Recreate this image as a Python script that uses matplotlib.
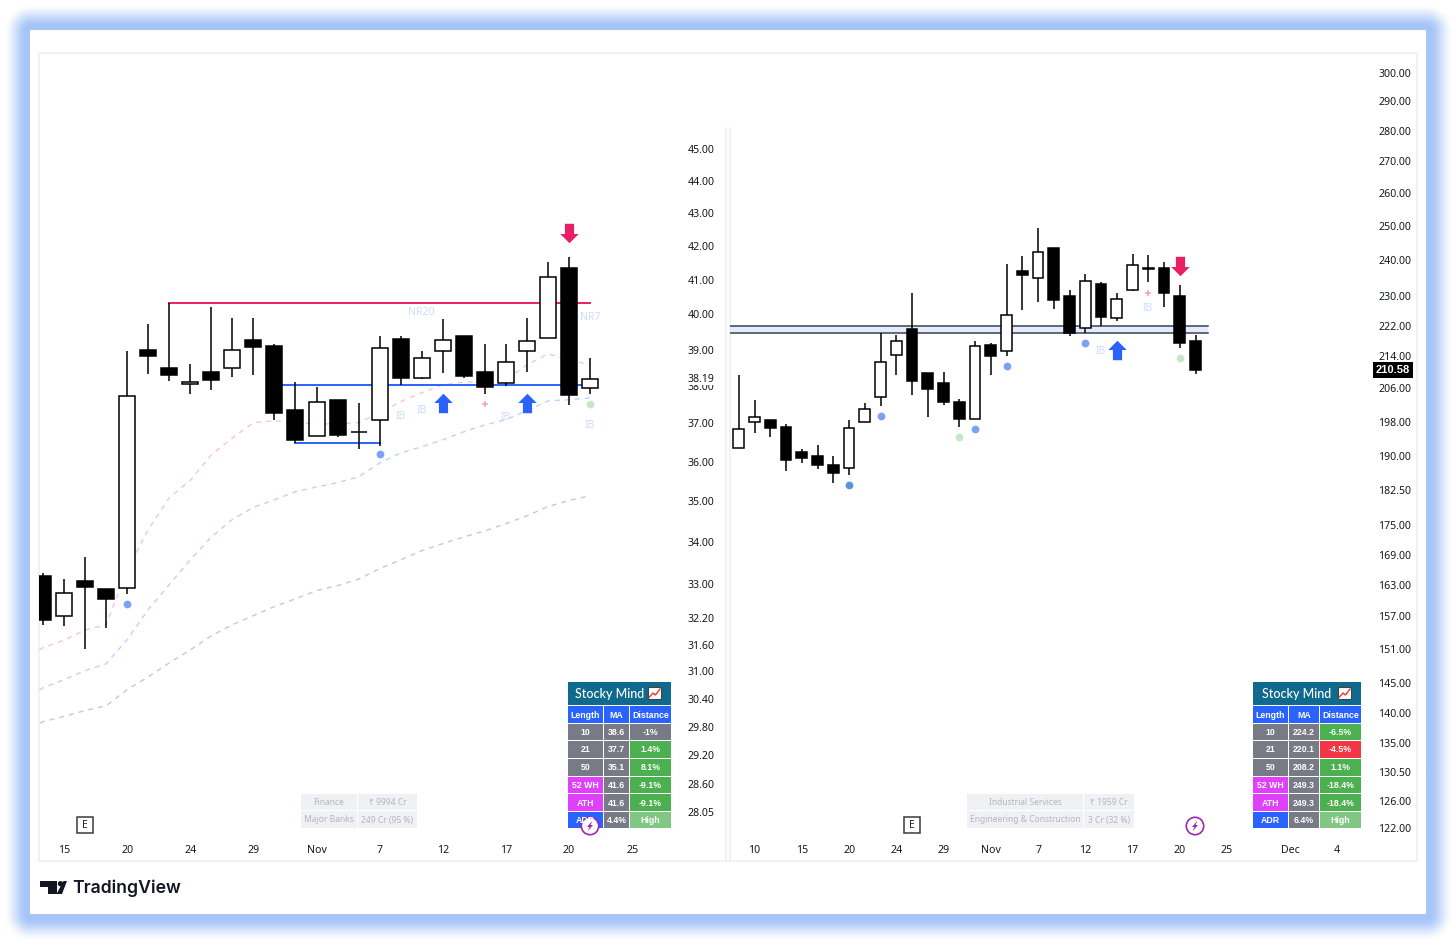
import numpy as np
import matplotlib
matplotlib.use("Agg")
import matplotlib.pyplot as plt
from matplotlib.patches import Rectangle, Circle, Polygon
from matplotlib.path import Path
from matplotlib.ticker import NullLocator

plt.rcParams['font.family'] = ['Noto Sans', 'DejaVu Sans']

# left chart, daily bars
l_open = [33.18, 32.24, 33.07, 32.89, 32.91, 38.99, 38.49, 38.06, 38.38, 38.50, 39.27, 39.10, 37.36, 36.67, 37.63, 36.78, 37.10, 39.30, 38.22, 38.96, 39.38, 38.38, 38.08, 38.96, 39.33, 41.33, 37.95]
l_high = [33.25, 33.11, 33.64, 32.89, 38.96, 39.71, 40.32, 38.61, 40.21, 39.90, 39.90, 39.16, 38.11, 37.98, 37.63, 37.55, 39.38, 39.38, 38.96, 39.87, 39.38, 39.16, 39.16, 39.90, 41.51, 41.66, 38.77]
l_low = [32.05, 32.03, 31.50, 31.97, 32.77, 38.33, 38.14, 37.79, 37.90, 38.25, 38.30, 37.10, 36.49, 36.67, 36.65, 36.34, 36.42, 38.03, 38.19, 38.35, 38.22, 37.79, 38.01, 38.38, 39.33, 37.50, 37.79]
l_close = [32.15, 32.79, 32.93, 32.65, 37.74, 38.82, 38.30, 38.11, 38.17, 38.99, 39.07, 37.28, 36.57, 37.58, 36.70, 36.78, 39.05, 38.22, 38.77, 39.27, 38.27, 37.98, 38.66, 39.24, 41.07, 37.76, 38.19]
# moving averages start one bar before the first visible candle
l_ma10 = [31.26, 31.53, 31.70, 31.93, 32.05, 33.33, 34.30, 35.09, 35.53, 36.18, 36.62, 37.02, 37.07, 37.02, 36.99, 36.99, 37.02, 37.28, 37.58, 37.82, 38.03, 38.11, 38.11, 38.17, 38.58, 38.88, 38.72, 38.58]
l_ma21 = [30.38, 30.64, 30.82, 31.02, 31.17, 31.71, 32.40, 32.98, 33.57, 34.12, 34.55, 34.85, 35.04, 35.24, 35.36, 35.47, 35.62, 35.97, 36.23, 36.39, 36.57, 36.78, 36.96, 37.10, 37.34, 37.60, 37.63, 37.68]
l_ma50 = [29.70, 29.91, 30.02, 30.15, 30.25, 30.60, 30.88, 31.19, 31.48, 31.80, 32.05, 32.26, 32.47, 32.65, 32.84, 32.96, 33.11, 33.36, 33.57, 33.79, 33.96, 34.12, 34.27, 34.45, 34.64, 34.87, 35.02, 35.14]
l_yticks = [45, 44, 43, 42, 41, 40, 39, 38, 37, 36, 35, 34, 33, 32.2, 31.6, 31, 30.4, 29.8, 29.2, 28.6, 28.05]
l_xticks = [1, 4, 7, 10, 13, 16, 19, 22, 25, 28]
l_xlabels = ["15", "20", "24", "29", "Nov", "7", "12", "17", "20", "25"]

# right chart, daily bars
r_open = [191.9, 197.9, 198.4, 196.7, 190.9, 190.0, 188.1, 187.4, 197.9, 203.9, 214.4, 221.0, 209.9, 207.4, 202.7, 198.6, 216.9, 215.4, 236.8, 235.0, 243.5, 230.0, 221.3, 233.3, 224.1, 231.7, 237.9, 237.9, 230.0, 218.0]
r_high = [209.4, 203.2, 198.4, 197.4, 191.6, 192.5, 190.0, 198.4, 202.5, 220.1, 219.6, 230.8, 209.9, 210.1, 203.4, 218.0, 217.4, 238.9, 241.1, 249.4, 243.5, 231.7, 236.1, 233.9, 230.8, 241.7, 241.4, 239.4, 233.0, 219.6]
r_low = [191.9, 195.3, 194.3, 186.7, 188.5, 187.2, 184.1, 185.9, 197.9, 201.7, 209.4, 204.4, 199.1, 202.0, 196.7, 198.6, 209.4, 214.1, 226.2, 228.4, 226.5, 219.3, 220.1, 222.0, 223.3, 231.4, 233.9, 227.0, 216.2, 209.6]
r_close = [196.2, 199.1, 196.5, 189.2, 189.6, 188.1, 186.3, 196.5, 201.0, 212.6, 218.0, 207.7, 205.9, 202.7, 198.6, 216.7, 214.1, 224.9, 235.7, 242.3, 228.9, 220.1, 234.1, 224.4, 229.2, 238.5, 237.4, 230.8, 217.4, 210.6]
r_yticks = [300, 290, 280, 270, 260, 250, 240, 230, 222, 214, 206, 198, 190, 182.5, 175, 169, 163, 157, 151, 145, 140, 135, 130.5, 126, 122]
r_xticks = [1, 4, 7, 10, 13, 16, 19, 22, 25, 28, 31, 35, 38]
r_xlabels = ["10", "15", "20", "24", "29", "Nov", "7", "12", "17", "20", "25", "Dec", "4"]

# tables
table_lengths = ["10", "21", "50", "52 WH", "ATH", "ADR"]
l_ma_vals = ["38.6", "37.7", "35.1", "41.6", "41.6", "4.4%"]
l_dist_vals = ["-1%", "1.4%", "8.1%", "-9.1%", "-9.1%", "High"]
r_ma_vals = ["224.2", "220.1", "208.2", "249.3", "249.3", "6.4%"]
r_dist_vals = ["-6.5%", "-4.5%", "1.1%", "-18.4%", "-18.4%", "High"]
l_info = [["Finance", "₹ 9994 Cr"], ["Major Banks", "249 Cr (95 %)"]]
r_info = [["Industrial Services", "₹ 1959 Cr"], ["Engineering & Construction", "3 Cr (32 %)"]]

BLUE = "#2962ff"
GREY = "#787b86"
MAGENTA = "#e040fb"
GREEN = "#4caf50"
LGREEN = "#81c784"
RED = "#f23645"
BOLD = ["Liberation Sans", "DejaVu Sans"]
W, H = 1456, 944
up_arrow = Path([(0, 1), (0.95, 0.05), (0.47, 0.05), (0.47, -1), (-0.47, -1), (-0.47, 0.05), (-0.95, 0.05), (0, 1)], closed=True)
down_arrow = Path([(0, -1), (0.95, -0.05), (0.47, -0.05), (0.47, 1), (-0.47, 1), (-0.47, -0.05), (-0.95, -0.05), (0, -1)], closed=True)


def px_axes(fig, x0, y0, x1, y1):
    return fig.add_axes([x0 / W, 1 - y1 / H, (x1 - x0) / W, (y1 - y0) / H])


def candles(ax, o, h, l, c, width):
    x = np.arange(len(o))
    o, h, l, c = map(np.array, (o, h, l, c))
    ax.vlines(x, l, h, color="black", lw=1.1, zorder=3)
    faces = ["white" if b >= a else "black" for a, b in zip(o, c)]
    ax.bar(x, np.maximum(np.abs(c - o), 0.0001), bottom=np.minimum(o, c), width=width,
           color=faces, edgecolor="black", lw=1.1, zorder=4)


def setup_axis(ax, xlim, ylim, xticks, xlabels, yticks, pad):
    ax.set_yscale("log")
    ax.set_xlim(xlim)
    ax.set_ylim(ylim)
    ax.patch.set_alpha(0)
    for s in ax.spines.values():
        s.set_visible(False)
    ax.set_xticks(xticks, labels=xlabels)
    ax.set_yticks(yticks, labels=["%.2f" % t for t in yticks])
    ax.yaxis.set_minor_locator(NullLocator())
    ax.tick_params(axis="x", length=0, pad=-11.6, labelsize=7.6, labelcolor="#131722")
    ax.tick_params(axis="y", length=0, pad=pad, labelsize=7.6, labelcolor="#131722",
                   left=False, right=False, labelleft=False, labelright=True)


def dots(ax, xs, ys, color):
    ax.plot(xs, ys, "o", ms=5.6, color=color, mec="none", zorder=5)


def arrows(ax, xs, ys, path, color):
    ax.plot(xs, ys, marker=path, ls="none", ms=14, color=color, mec="none", zorder=6)


def labels(ax, xs, ys, strs):
    for x, y, s in zip(xs, ys, strs):
        ax.text(x, y, s, color="#cfdcfb", fontsize=7.6, ha="center", va="center", zorder=2)


def cell(ov, x0, y0, x1, y1, color, txt, tc="white", fs=6.3, weight="bold", family=BOLD):
    ov.add_patch(Rectangle((x0, y0), x1 - x0, y1 - y0, fc=color, ec="none"))
    ov.text((x0 + x1) / 2, (y0 + y1) / 2 + 0.5, txt, color=tc, fontsize=fs, fontweight=weight,
            family=family, ha="center", va="center")


def stocky_table(ov, c0, c1, c2, c3, title_x, ma_vals, dist_vals):
    ov.add_patch(Rectangle((c0, 682), c3 - c0, 23, fc="#0f6a8d", ec="none"))
    ov.text(title_x, 693.5, "Stocky Mind", color="white", fontsize=9, family="Lato", fontweight="medium",
            ha="center", va="center")
    # the little chart icon next to the title
    ix = c3 - 23
    ov.add_patch(Rectangle((ix, 687), 13, 12, fc="white", ec="#444444", lw=0.8))
    ov.plot([ix + 1.5, ix + 5, ix + 7.5, ix + 12], [697, 693, 695, 689], color="#e53935", lw=1)
    rows = [(706, 723), (724, 740), (741, 758), (759, 776), (777, 793), (794, 811), (812, 828)]
    cell(ov, c0, rows[0][0], c1, rows[0][1], BLUE, "Length")
    cell(ov, c1 + 1, rows[0][0], c2, rows[0][1], BLUE, "MA")
    cell(ov, c2 + 1, rows[0][0], c3, rows[0][1], BLUE, "Distance")
    len_colors = [GREY, GREY, GREY, MAGENTA, MAGENTA, BLUE]
    for i, (y0, y1) in enumerate(rows[1:]):
        dv = dist_vals[i]
        dc = GREEN
        if dv == "-1%":
            dc = GREY
        elif dv == "-4.5%":
            dc = RED
        elif dv == "High":
            dc = LGREEN
        cell(ov, c0, y0, c1, y1, len_colors[i], table_lengths[i])
        cell(ov, c1 + 1, y0, c2, y1, GREY, ma_vals[i])
        cell(ov, c2 + 1, y0, c3, y1, dc, dv)


def info_table(ov, x0, x1, x2, info):
    fam = ["Noto Sans", "DejaVu Sans"]
    for (y0, y1), row in zip([(794, 810), (811, 828)], info):
        cell(ov, x0, y0, x1, y1, "#f0f1f4", row[0], tc="#b2b5be", fs=6.1, weight="normal", family=fam)
        cell(ov, x1 + 1, y0, x2, y1, "#f0f1f4", row[1], tc="#b2b5be", fs=6.1, weight="normal", family=fam)


def e_box(ov, x):
    ov.add_patch(Rectangle((x - 8, 817), 16, 16, fc="white", ec="#3a3a3a", lw=1.1))
    ov.text(x, 825, "E", fontsize=7.5, color="#222222", ha="center", va="center")


def bolt(ov, x):
    ov.add_patch(Circle((x, 826), 8.7, fc="white", ec="#9c27b0", lw=1.2))
    ov.add_patch(Polygon([(x + 2.5, 820.5), (x - 3, 827), (x - 0.5, 827), (x - 2.5, 831.5), (x + 3, 825), (x + 0.5, 825)],
                         fc="#9c27b0", ec="none"))


fig = plt.figure(figsize=(W / 100, H / 100), dpi=100)

# glowing blue frame behind everything
bg = fig.add_axes([0, 0, 1, 1], zorder=-1)
yy, xx = np.mgrid[0:H, 0:W]
dx = np.maximum(np.maximum(30 - xx, xx - 1426), 0)
dy = np.maximum(np.maximum(30 - yy, yy - 914), 0)
dist = np.hypot(dx, dy)
a = np.clip((27 - dist) / 24, 0, 1)
a = a * a * (3 - 2 * a)
img = np.ones((H, W, 3))
for k, v in enumerate((0.65, 0.77, 0.97)):
    img[:, :, k] = 1 - a * (1 - v)
bg.imshow(img, extent=(0, W, H, 0), aspect="auto", interpolation="nearest")
bg.add_patch(Rectangle((30, 30), 1396, 884, fc="white", ec="none"))
bg.plot([39, 39, 1417, 1417, 39], [861, 53, 53, 861, 861], color="#f0f0f0", lw=1.2)
bg.plot([726, 726], [128, 861], color="#f0f0f0", lw=1.2)
bg.plot([730, 730], [128, 861], color="#f0f0f0", lw=1.2)
bg.set_xlim(0, W)
bg.set_ylim(H, 0)
bg.axis("off")

# left chart
ax1 = px_axes(fig, 39, 53, 726, 861)
setup_axis(ax1, (-0.19, 32.46), (27.08, 48.19), l_xticks, l_xlabels, l_yticks, -27.4)
x1 = np.arange(-1, len(l_open))
ax1.plot(x1, l_ma10, color="#f8c6cd", lw=1, ls=(0, (3.6, 3.6)), zorder=1)
ax1.plot(x1, l_ma21, color="#c0d1f9", lw=1, ls=(0, (3.6, 3.6)), zorder=1)
ax1.plot(x1, l_ma50, color="#c8c8d0", lw=1, ls=(0, (3.6, 3.6)), zorder=1)
ax1.plot([6, 26], [40.32, 40.32], color="#e91e63", lw=1.4, zorder=2)
ax1.plot([11, 26], [38.03, 38.03], color=BLUE, lw=1.4, zorder=2)
ax1.plot([12, 16], [36.49, 36.49], color=BLUE, lw=1.4, zorder=2)
candles(ax1, l_open, l_high, l_low, l_close, 0.76)
dots(ax1, [4, 16], [32.54, 36.2], "#7ba2f5")
dots(ax1, [26], [37.52], "#c8e6c9")
ax1.plot([21], [37.52], "+", ms=5, mew=1.1, color="#f7a0a8", zorder=5)
arrows(ax1, [19, 23], [37.55, 37.55], up_arrow, BLUE)
arrows(ax1, [25], [42.38], down_arrow, "#e91e63")
labels(ax1, [17, 18, 22, 26, 18, 26], [37.18, 37.34, 37.15, 36.94, 40.06, 39.9],
       ["IB", "IB", "IB", "IB", "NR20", "NR7"])
ax1.text(649 / 687, 38.19, "38.19", transform=ax1.get_yaxis_transform(), fontsize=7.6,
         color="#131722", ha="left", va="center", zorder=7,
         bbox=dict(fc="white", ec="none", pad=0.5))

# right chart
ax2 = px_axes(fig, 730, 53, 1417, 861)
setup_axis(ax2, (-0.56, 43.06), (117.3, 307.2), r_xticks, r_xlabels, r_yticks, -28)
ax2.fill_between([-0.56, 29.8], 220.1, 222.0, color="#e3ebfc", lw=0, zorder=1)
ax2.plot([-0.56, 29.8], [222.0, 222.0], color="#3a4252", lw=1.1, zorder=2)
ax2.plot([-0.56, 29.8], [220.1, 220.1], color="#3a4252", lw=1.1, zorder=2)
candles(ax2, r_open, r_high, r_low, r_close, 0.68)
dots(ax2, [7], [183.7], "#5c94d6")
dots(ax2, [9, 15, 17, 22], [199.3, 196.2, 211.5, 217.4], "#7ba2f5")
dots(ax2, [14, 28], [194.3, 213.6], "#c8e6c9")
ax2.plot([26], [230.8], "+", ms=5, mew=1.1, color="#f7a0a8", zorder=5)
arrows(ax2, [24], [215.65], up_arrow, BLUE)
arrows(ax2, [28], [238.3], down_arrow, "#e91e63")
labels(ax2, [23, 26], [215.2, 226.5], ["IB", "IB"])
ax2.text((1393 - 730) / 687, 210.58, "210.58", transform=ax2.get_yaxis_transform(), fontsize=8,
         fontweight="bold", family=BOLD, color="white", ha="center", va="center", zorder=7,
         bbox=dict(fc="black", ec="none", boxstyle="square,pad=0.3"))

# overlay in pixels: tables, badges and logo
ov = fig.add_axes([0, 0, 1, 1], zorder=5)
ov.set_xlim(0, W)
ov.set_ylim(H, 0)
ov.axis("off")
stocky_table(ov, 568, 603, 629, 671, 610, l_ma_vals, l_dist_vals)
stocky_table(ov, 1253, 1288, 1319, 1361, 1297, r_ma_vals, r_dist_vals)
info_table(ov, 301, 357, 417, l_info)
info_table(ov, 967, 1083, 1134, r_info)
e_box(ov, 85)
e_box(ov, 912)
bolt(ov, 590)
bolt(ov, 1195)

ov.add_patch(Polygon([(40, 881), (57, 881), (57, 894), (48, 894), (48, 886.5), (40, 886.5)], fc="#131722", ec="none"))
ov.add_patch(Circle((60.5, 883.7), 2.7, fc="#131722", ec="none"))
ov.add_patch(Polygon([(63.5, 881), (67, 881), (62, 894), (56.5, 894)], fc="#131722", ec="none"))
ov.text(72, 888, "TradingView", fontsize=12.7, family="Inter", fontweight="semibold", color="#131722",
        ha="left", va="center")

fig.savefig("out.png", dpi=100)
